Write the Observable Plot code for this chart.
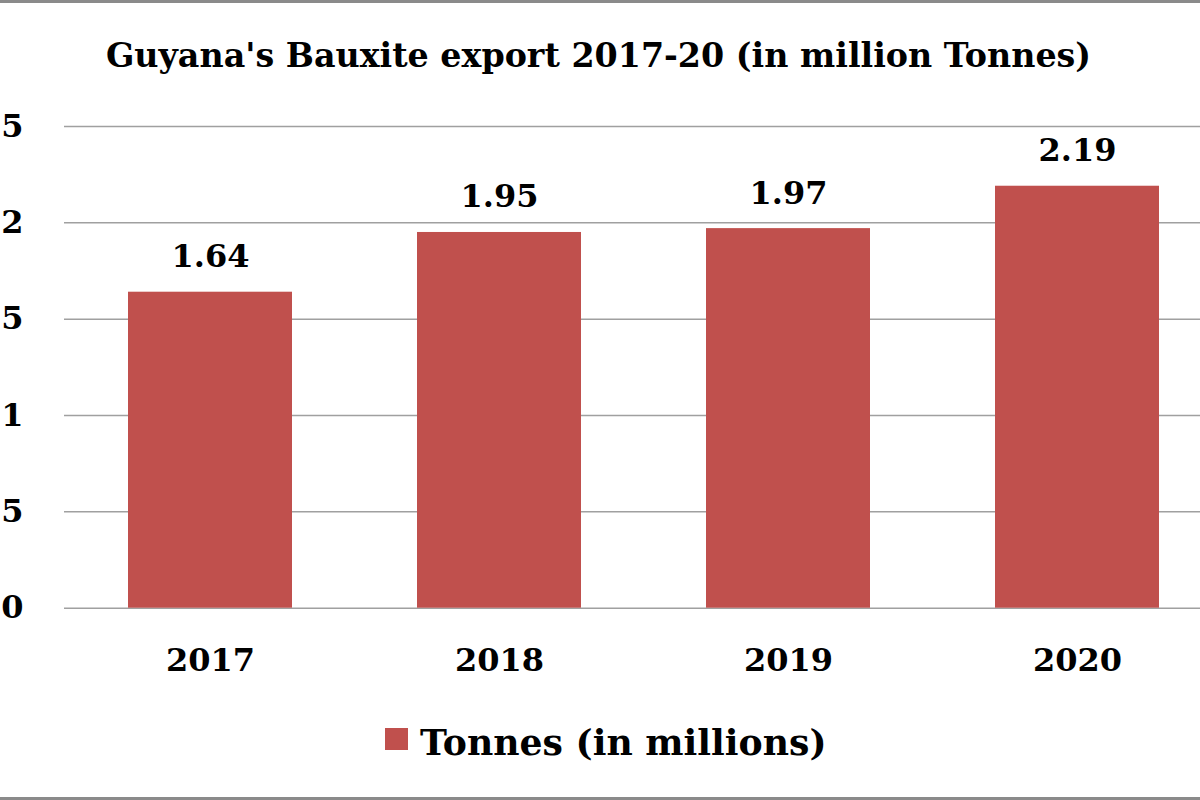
<!DOCTYPE html>
<html>
<head>
<meta charset="utf-8">
<script src="https://cdn.jsdelivr.net/npm/d3@7"></script>
<script src="https://cdn.jsdelivr.net/npm/@observablehq/plot@0.6"></script>
<style>
  html, body { margin: 0; padding: 0; background: #fff; }
  #frame {
    position: relative; width: 1200px; height: 800px; overflow: hidden;
    box-sizing: border-box; border-top: 3px solid #8a8a8a; border-bottom: 3.5px solid #8a8a8a;
    font-family: "DejaVu Serif", serif; font-weight: bold; color: #000;
  }
  #title { position: relative; height: 77px; }
  #title span {
    position: absolute; left: 0; width: 1197px; top: 36px; text-align: center;
    font-size: 33.3px; line-height: 33.3px; white-space: nowrap;
  }
  #chart { height: 620px; }
  #chart svg { display: block; }
  #legend { position: relative; height: 96.5px; }
  #legend .sw { position: absolute; left: 385px; top: 28px; width: 23px; height: 22px; background: #C0504D; }
  #legend .lb { position: absolute; left: 420px; top: 24.5px; font-size: 36.2px; line-height: 36.2px; white-space: nowrap; }
</style>
</head>
<body>
<div id="frame">
  <div id="title"><span>Guyana's Bauxite export 2017-20 (in million Tonnes)</span></div>
  <div id="chart"></div>
  <div id="legend"><div class="sw"></div><div class="lb">Tonnes (in millions)</div></div>
</div>
<script>
const years = ["2017", "2018", "2019", "2020"];
const tonnes = [1.64, 1.95, 1.97, 2.19];
const yTicks = [0, 0.5, 1, 1.5, 2, 2.5];
const barColor = "#C0504D";

const data = years.map((year, i) => ({year, value: tonnes[i]}));

const chart = Plot.plot({
  width: 1200,
  height: 620,
  marginTop: 46,
  marginBottom: 92.3,
  marginLeft: 64,
  marginRight: 0,
  style: {fontFamily: "'DejaVu Serif', serif", fontWeight: "bold", color: "#000", background: "transparent"},
  x: {domain: years, range: [64, 1222], paddingInner: 0.4335, paddingOuter: 0.2168},
  y: {domain: [0, 2.5], range: [527.7, 46]},
  marks: [
    Plot.ruleY(yTicks, {stroke: "#a0a0a0", strokeWidth: 1.5}),
    Plot.barY(data, {x: "year", y: "value", fill: barColor}),
    Plot.text(data, {x: "year", y: "value", text: d => d.value.toFixed(2), dy: -25, lineAnchor: "bottom", fontSize: 32, fontWeight: "bold", fill: "#000"}),
    Plot.axisX({tickSize: 0, tickPadding: 40, fontSize: 32, label: null}),
    Plot.axisY({ticks: yTicks, tickSize: 0, tickPadding: 41, fontSize: 32, label: null, tickFormat: d => String(d)})
  ]
});
document.getElementById("chart").appendChild(chart);
</script>
</body>
</html>
